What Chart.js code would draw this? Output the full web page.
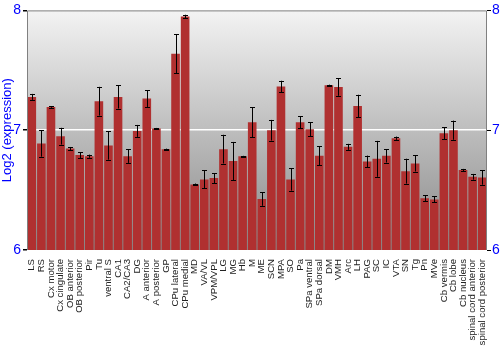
<!DOCTYPE html>
<html><head><meta charset="utf-8">
<script src="https://cdn.jsdelivr.net/npm/chart.js@4"></script>
<style>html,body{margin:0;padding:0;background:#fff}#wrap{width:500px;height:350px}</style>
</head><body><div id="wrap"><canvas id="c" width="500" height="350"></canvas></div>
<script>
const categories = ["LS","RS","Cx motor","Cx cingulate","OB anterior","OB posterior","Pir","Tu","ventral S","CA1","CA2/CA3","DG","A anterior","A posterior","GP","CPu lateral","CPu medial","MD","VA/VL","VPM/VPL","LG","MG","Hb","M","ME","SCN","MPA","SO","Pa","SPa ventral","SPa dorsal","DM","VMH","Arc","LH","PAG","SC","IC","VTA","SN","Tg","Pn","MVe","Cb vermis","Cb lobe","Cb nucleus","spinal cord anterior","spinal cord posterior"];
const expression = [7.278,6.889,7.194,6.95,6.847,6.792,6.783,7.242,6.872,7.278,6.783,6.994,7.264,7.014,6.842,7.639,7.95,6.547,6.589,6.6,6.842,6.742,6.783,7.067,6.425,7.0,7.364,6.589,7.067,7.008,6.786,7.375,7.361,6.861,7.203,6.739,6.761,6.786,6.933,6.658,6.722,6.431,6.422,6.975,7.0,6.667,6.611,6.606];
const errors = [0.025,0.11,0.007,0.07,0.013,0.024,0.013,0.12,0.118,0.097,0.056,0.05,0.07,0.005,0.004,0.163,0.014,0.008,0.075,0.042,0.12,0.16,0.003,0.126,0.056,0.086,0.049,0.093,0.049,0.057,0.08,0.005,0.074,0.025,0.093,0.049,0.15,0.056,0.014,0.104,0.067,0.026,0.025,0.05,0.08,0.01,0.024,0.061];
const yTicks = [6,7,8];

const bgPlugin = {
  id:'bg',
  beforeDraw(chart){
    const {ctx, chartArea:a} = chart;
    const g = ctx.createLinearGradient(0,a.top,0,a.bottom);
    g.addColorStop(0,'#f3f3f3'); g.addColorStop(1,'#888888');
    ctx.save(); ctx.fillStyle=g; ctx.fillRect(a.left,a.top,a.right-a.left,a.bottom-a.top); ctx.restore();
  },
  afterDraw(chart){
    const {ctx, chartArea:a} = chart;
    ctx.save(); ctx.strokeStyle='#808080'; ctx.lineWidth=1;
    ctx.beginPath();
    ctx.moveTo(a.left+0.5,a.bottom); ctx.lineTo(a.left+0.5,a.top+0.5); ctx.lineTo(a.right-0.5,a.top+0.5); ctx.lineTo(a.right-0.5,a.bottom);
    ctx.stroke(); ctx.restore();
  }
};
const errPlugin = {
  id:'err',
  afterDatasetsDraw(chart){
    const {ctx} = chart; const y = chart.scales.y;
    const meta = chart.getDatasetMeta(0);
    ctx.save(); ctx.strokeStyle='#000'; ctx.lineWidth=1;
    meta.data.forEach((bar,i)=>{
      const v = expression[i], e = errors[i];
      const x = Math.round(bar.x)+0.5;
      const yt = y.getPixelForValue(v+e), yb = y.getPixelForValue(v-e);
      ctx.beginPath();
      ctx.moveTo(x,yt); ctx.lineTo(x,yb);
      ctx.moveTo(x-2.5,Math.round(yt)+0.5); ctx.lineTo(x+2.5,Math.round(yt)+0.5);
      ctx.moveTo(x-2.5,Math.round(yb)+0.5); ctx.lineTo(x+2.5,Math.round(yb)+0.5);
      ctx.stroke();
    });
    ctx.restore();
  }
};

function barGrad(context){
  const chart = context.chart;
  const el = context.element;
  if(!chart.chartArea || !el || el.x===undefined || isNaN(el.x)) return '#b03030';
  const w = el.width || 8;
  const g = chart.ctx.createLinearGradient(el.x-w/2,0,el.x+w/2,0);
  g.addColorStop(0,'#cf5858');
  g.addColorStop(0.3,'#c03c3c');
  g.addColorStop(0.75,'#962222');
  g.addColorStop(1,'#621212');
  return g;
}

const tickFont = {family:'"Liberation Sans", Arial, sans-serif', size:14};
new Chart(document.getElementById('c'),{
  type:'bar',
  data:{labels:categories, datasets:[{data:expression, backgroundColor:barGrad, borderWidth:0, barPercentage:0.9, categoryPercentage:1.0}]},
  options:{
    responsive:false, animation:false, devicePixelRatio:1,
    layout:{padding:{top:10,left:0,right:0,bottom:0}},
    plugins:{legend:{display:false}, tooltip:{enabled:false}},
    scales:{
      x:{
        grid:{display:false}, border:{display:false},
        ticks:{autoSkip:false, minRotation:90, maxRotation:90, padding:1, color:'#222', font:{family:'"Liberation Sans", Arial, sans-serif', size:9.6}},
        afterFit(s){ s.height = 100; }
      },
      y:{
        position:'left', min:6, max:8,
        afterBuildTicks(s){ s.ticks = yTicks.map(v=>({value:v})); },
        ticks:{color:'#0000ff', font:tickFont, padding:2},
        grid:{color:(c)=> c.tick && c.tick.value===7 ? '#ffffff' : 'rgba(0,0,0,0)', lineWidth:1.5, tickColor:'#000', tickLength:4, drawTicks:true},
        border:{display:false},
        title:{display:true, text:'Log2 (expression)', color:'#0000ff', font:{family:'"Liberation Sans", Arial, sans-serif', size:13}, padding:0},
        afterFit(s){ s.width = 27; }
      },
      y2:{
        position:'right', min:6, max:8,
        afterBuildTicks(s){ s.ticks = yTicks.map(v=>({value:v})); },
        ticks:{color:'#0000ff', font:tickFont, padding:1},
        grid:{drawOnChartArea:false, tickColor:'#000', tickLength:4},
        border:{display:false},
        afterFit(s){ s.width = 13; }
      }
    }
  },
  plugins:[bgPlugin, errPlugin]
});
</script></body></html>
